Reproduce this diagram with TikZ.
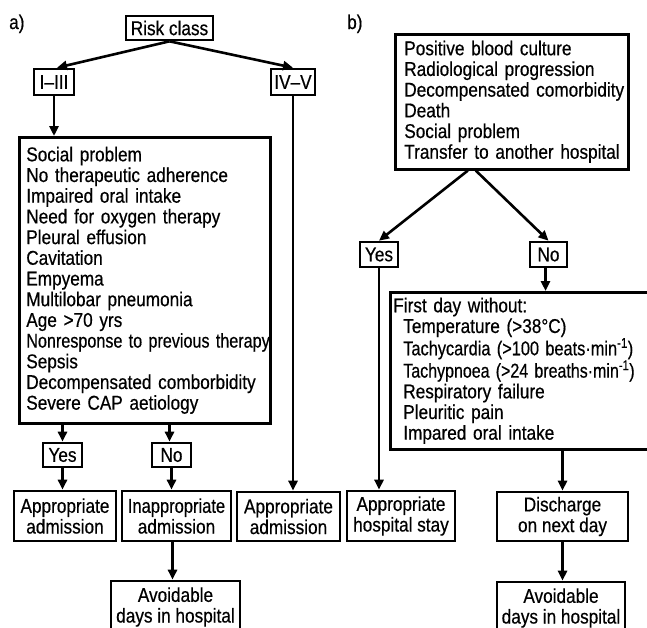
\documentclass[tikz,border=0pt]{standalone}
\usepackage{fontspec}
\setmainfont[FakeStretch=0.86,FakeBold=0.5]{Liberation Sans}
\usetikzlibrary{arrows.meta}
\begin{document}
\begin{tikzpicture}[x=1pt,y=-1pt,
  font=\fontsize{20}{20.7}\selectfont,
  box/.style={draw, line width=2.6pt, inner sep=0pt, align=center},
  listbox/.style={draw, line width=2.6pt, align=left, anchor=north west, inner ysep=0pt},
  arr/.style={line width=2.6pt, -{Triangle[length=10pt,width=9pt]}},
  panel/.style={anchor=base west, inner sep=0pt}]
\useasboundingbox (0,0) rectangle (647,627);
% panel labels
\node[panel] (la) at (9,29) {a)};
\node[panel] (lb) at (347,29) {b)};
% ---- a)
\node[box, minimum width=87, minimum height=24] (risk) at (169.5,28) {Risk class};
\node[box, minimum width=40, minimum height=26] (i3) at (54,82) {I–III};
\node[box, minimum width=44, minimum height=26] (iv) at (293,82) {IV–V};
\node[listbox, minimum width=251, minimum height=286, text width=237, inner xsep=7] (crit) at (18,136)
 {Social problem\\No therapeutic adherence\\Impaired oral intake\\Need for oxygen therapy\\Pleural effusion\\Cavitation\\Empyema\\Multilobar pneumonia\\Age >70 yrs\\\scalebox{0.94}[1]{Nonresponse to previous therapy}\\Sepsis\\\mbox{Decompensated comborbidity}\\Severe CAP aetiology};
\node[box, minimum width=39, minimum height=24] (yes1) at (62.5,455) {Yes};
\node[box, minimum width=39, minimum height=24] (no1) at (171.5,455) {No};
\node[box, minimum width=102, minimum height=50] (app1) at (65,516) {Appropriate\\admission};
\node[box, minimum width=109, minimum height=50] (inapp) at (176.5,516) {\scalebox{0.96}[1]{Inappropriate}\\admission};
\node[box, minimum width=103, minimum height=49] (app2) at (288.5,516.5) {Appropriate\\admission};
\node[box, minimum width=129, minimum height=52] (avoid1) at (175.5,607) {Avoidable\\\mbox{days in hospital}};
\draw[arr] (risk.south) -- ([xshift=3pt]i3.north);
\draw[arr] (risk.south) -- (iv.north);
\draw[arr] (i3.south) -- (i3.south |- crit.north);
\draw[arr] (iv.south) -- (iv.south |- app2.north);
\draw[arr] (yes1.north |- crit.south) -- (yes1.north);
\draw[arr] ([xshift=-2pt]no1.north |- crit.south) -- ([xshift=-2pt]no1.north);
\draw[arr] (yes1.south) -- (yes1.south |- app1.north);
\draw[arr] (no1.south) -- (no1.south |- inapp.north);
\draw[arr] ([xshift=-4pt]inapp.south) -- ([xshift=-4pt]inapp.south |- avoid1.north);
% ---- b)
\node[listbox, minimum width=233, minimum height=135, text width=215, inner xsep=9] (crit2) at (394,33)
 {Positive blood culture\\Radiological progression\\\mbox{Decompensated comorbidity}\\Death\\Social problem\\\mbox{Transfer to another hospital}};
\coordinate (sp) at ([xshift=-44pt]crit2.south);
\node[box, minimum width=38, minimum height=25] (yes2) at (379,254.5) {Yes};
\node[box, minimum width=37, minimum height=25] (no2) at (548.5,254.5) {No};
\node[listbox, minimum width=270, minimum height=157, text width=264, inner xsep=3] (first) at (389,291)
 {First day without:\\
  \hspace*{10pt}Temperature (>38°C)\\
  \hspace*{10pt}\scalebox{0.95}[1]{Tachycardia (>100 beats·min\textsuperscript{-1})}\\
  \hspace*{10pt}\scalebox{0.93}[1]{Tachypnoea (>24 breaths·min\textsuperscript{-1})}\\
  \hspace*{10pt}Respiratory failure\\
  \hspace*{10pt}Pleuritic pain\\
  \hspace*{10pt}Impared oral intake};
\node[box, minimum width=108, minimum height=50] (stay) at (401,516) {Appropriate\\\mbox{hospital stay}};
\node[box, minimum width=131, minimum height=49] (disch) at (562.5,516.5) {Discharge\\on next day};
\node[box, minimum width=128, minimum height=52] (avoid2) at (561,608) {Avoidable\\\mbox{days in hospital}};
\draw[arr] (sp) -- (yes2.north);
\draw[arr] ([xshift=8pt]sp) -- (no2.north);
\draw[arr] (yes2.south) -- (yes2.south |- stay.north);
\draw[arr] ([xshift=-3pt]no2.south) -- ([xshift=-3pt]no2.south |- first.north);
\draw[arr] (disch.north |- first.south) -- (disch.north);
\draw[arr] (disch.south) -- (disch.south |- avoid2.north);
\end{tikzpicture}
\end{document}
